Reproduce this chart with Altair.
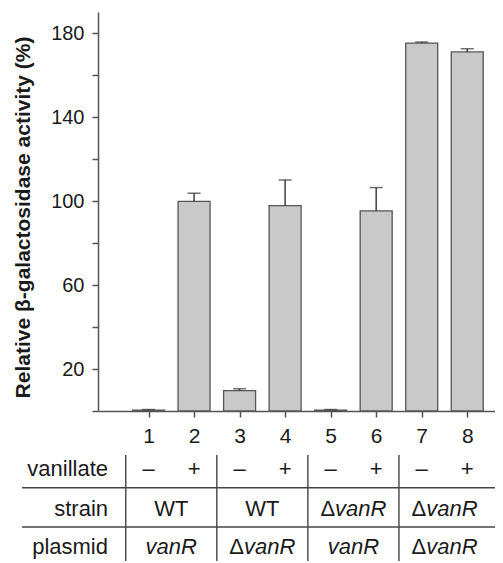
import altair as alt
import pandas as pd

# ---- data ----
lanes = [1, 2, 3, 4, 5, 6, 7, 8]
activity = [0.4, 99.8, 9.7, 97.8, 0.4, 95.3, 175.2, 171.0]
error = [0.3, 3.9, 0.9, 12.2, 0.3, 11.1, 0.5, 1.5]
vanillate = ["–", "+", "–", "+", "–", "+", "–", "+"]
group_center = [1.5, 3.5, 5.5, 7.5]
group_edges = [0.5, 2.5, 4.5, 6.5]
strain = ["WT", "WT", "ΔvanR", "ΔvanR"]
plasmid = ["vanR", "ΔvanR", "vanR", "ΔvanR"]
gene = "vanR"
y_ticks = [0, 20, 40, 60, 80, 100, 120, 140, 160, 180]

FONT = "Liberation Sans, Arial, Helvetica, sans-serif"
TXT = "#1a1a1a"
AX = "#555555"
FS = 22
DX = -18.3

df = pd.DataFrame({"lane": lanes, "activity": activity,
                   "upper": [a + e for a, e in zip(activity, error)]})

xscale = alt.Scale(domain=[0, 8.5], nice=False, zero=False)
yscale = alt.Scale(domain=[0, 190], nice=False)

x_axis = alt.Axis(values=lanes, format="d", tickSize=6, labelPadding=8,
                  labelFontSize=21, labelFont=FONT, labelColor=TXT,
                  domainColor=AX, tickColor=AX, domainWidth=1.5, tickWidth=1.5,
                  grid=False, title=None, labelAngle=0)
y_axis = alt.Axis(values=y_ticks, labelExpr="datum.value % 40 == 20 ? datum.label : ''",
                  tickSize=6, labelPadding=8, labelFontSize=20, labelFont=FONT,
                  labelColor=TXT, domainColor=AX, tickColor=AX, domainWidth=1.5,
                  tickWidth=1.5, grid=False,
                  title="Relative β-galactosidase activity (%)",
                  titleFont=FONT, titleFontSize=21, titleFontWeight="bold",
                  titleColor=TXT, titleX=-75, titleY=205, titleBaseline="middle")


def X(field):
    return alt.X(f"{field}:Q", scale=xscale, axis=x_axis)


def Y(field):
    return alt.Y(f"{field}:Q", scale=yscale, axis=y_axis)


bars = alt.Chart(df).mark_bar(size=32, fill="#c9c9c9", stroke=AX, strokeWidth=1.3).encode(
    x=X("lane"), y=Y("activity"),
)
err_rule = alt.Chart(df).mark_rule(color="#333333", strokeWidth=1.4).encode(
    x=X("lane"), y=Y("activity"), y2="upper:Q",
)
err_cap = alt.Chart(df).mark_tick(orient="horizontal", size=13, thickness=1.5,
                                  color="#333333").encode(
    x=X("lane"), y=Y("upper"),
)

layers = [bars, err_rule, err_cap]

# ---- table under the plot ----
one = pd.DataFrame({"k": [0]})
ROW_Y = {"vanillate": 463.7, "strain": 504.0, "plasmid": 541.5}
LINE_Y = [475.7, 515.0]

for name, yb in ROW_Y.items():
    layers.append(alt.Chart(pd.DataFrame({"t": [name]})).mark_text(
        fontSize=FS, font=FONT, color=TXT, align="right", baseline="alphabetic").encode(
        x=alt.value(10), y=alt.value(yb), text="t:N"))

van_df = pd.DataFrame({"lane": lanes, "sign": vanillate})
layers.append(alt.Chart(van_df).mark_text(
    fontSize=FS, font=FONT, color=TXT, baseline="alphabetic").encode(
    x=X("lane"), y=alt.value(ROW_Y["vanillate"]), text="sign:N"))


def row_layers(labels, yb):
    recs = []
    for c, lab in zip(group_center, labels):
        delta = lab.startswith("Δ")
        core = lab[1:] if delta else lab
        recs.append({"lane": c, "core": core, "delta": delta, "italic": core == gene})
    d = pd.DataFrame(recs)
    out = []
    kinds = [
        (d[(~d.delta) & (~d.italic)], "normal", "center", 0, "core"),
        (d[(~d.delta) & (d.italic)], "italic", "center", 0, "core"),
        (d[d.delta].assign(sym="Δ"), "normal", "right", DX, "sym"),
        (d[d.delta], "italic", "left", DX, "core"),
    ]
    for sub, style, align, dx, field in kinds:
        if len(sub) == 0:
            continue
        out.append(alt.Chart(sub).mark_text(
            fontSize=FS, font=FONT, color=TXT, fontStyle=style, align=align,
            dx=dx, baseline="alphabetic").encode(
            x=X("lane"), y=alt.value(yb), text=f"{field}:N"))
    return out


layers += row_layers(strain, ROW_Y["strain"])
layers += row_layers(plasmid, ROW_Y["plasmid"])

for ly in LINE_Y:
    layers.append(alt.Chart(one).mark_rule(color="#444444", strokeWidth=1.4).encode(
        x=alt.value(-76), x2=alt.value(410), y=alt.value(ly)))

edges_df = pd.DataFrame({"lane": group_edges})
layers.append(alt.Chart(edges_df).mark_rule(color="#444444", strokeWidth=1.4).encode(
    x=X("lane"), y=alt.value(443), y2=alt.value(552)))

chart = alt.layer(*layers).properties(
    width=397, height=399,
    autosize=alt.AutoSizeParams(type="none"),
    padding={"left": 90, "top": 4, "right": 0, "bottom": 150},
    background="white",
).configure_view(stroke=None)

chart.save("out.html", embed_options={"renderer": "svg", "actions": False})
